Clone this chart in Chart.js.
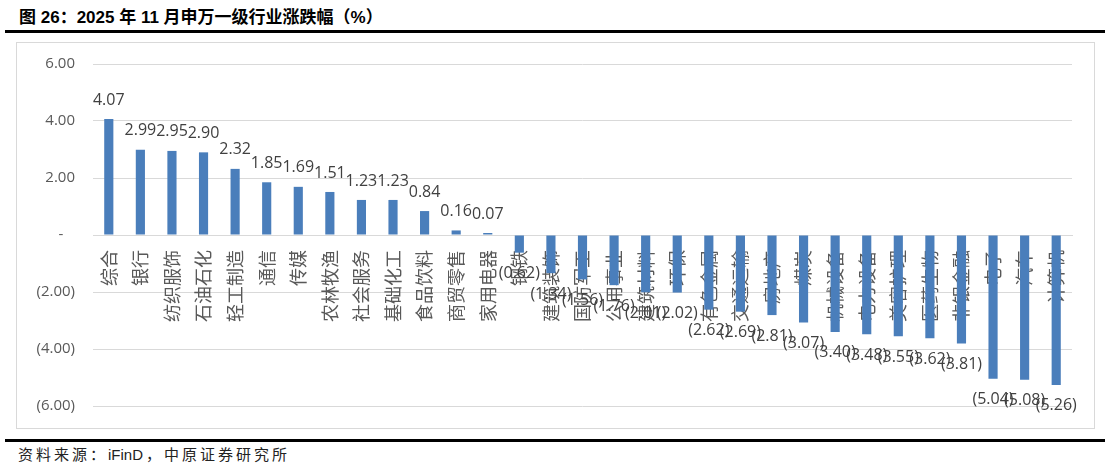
<!DOCTYPE html>
<html>
<head>
<meta charset="utf-8">
<script src="https://cdn.jsdelivr.net/npm/chart.js@4/dist/chart.umd.min.js"></script>
<style>
  html, body { margin: 0; padding: 0; background: #fff; }
  body { width: 1110px; height: 472px; position: relative; overflow: hidden; }
  #title { position: absolute; left: 19px; top: 3px; font: bold 17px "Liberation Sans", "Noto Sans CJK SC", sans-serif; color: #000; white-space: nowrap; }
  .rule { position: absolute; left: 5px; width: 1100px; height: 3px; background: #000; }
  #frame { position: absolute; left: 16px; top: 42px; width: 1079px; height: 387px; border: 1px solid #d9d9d9; box-sizing: border-box; }
  #frame canvas { display: block; }
  #source { position: absolute; left: 18px; top: 443px; font: 15px "Liberation Sans", "Noto Sans CJK SC", sans-serif; color: #222; white-space: nowrap; letter-spacing: 3px; }
  #source .lat { letter-spacing: 0; margin-right: 3px; }
</style>
</head>
<body>
<div id="title">图 26：2025 年 11 月申万一级行业涨跌幅（%）</div>
<div class="rule" style="top:30px"></div>
<div id="frame"><canvas id="c" width="1077" height="385"></canvas></div>
<div class="rule" style="top:439px"></div>
<div id="source">资料来源：<span class="lat">iFinD</span>，中原证券研究所</div>
<script>
const categories = ["综合","银行","纺织服饰","石油石化","轻工制造","通信","传媒","农林牧渔","社会服务","基础化工","食品饮料","商贸零售","家用电器","钢铁","建筑装饰","国防军工","公用事业","建筑材料","环保","有色金属","交通运输","房地产","煤炭","机械设备","电力设备","美容护理","医药生物","非银金融","电子","汽车","计算机"];
const changes = [4.07,2.99,2.95,2.90,2.32,1.85,1.69,1.51,1.23,1.23,0.84,0.16,0.07,-0.62,-1.34,-1.56,-1.76,-2.01,-2.02,-2.62,-2.69,-2.81,-3.07,-3.40,-3.48,-3.55,-3.62,-3.81,-5.04,-5.08,-5.26];
const yTicks = [-6,-4,-2,0,2,4,6];

function fmt(v) {
  if (Math.abs(v) < 1e-9) return '-';
  const s = Math.abs(v).toFixed(2);
  return v < 0 ? '(' + s + ')' : s;
}

const numFont = '"Open Sans", "Liberation Sans", sans-serif';

const dataLabels = {
  id: 'dataLabels',
  afterDatasetsDraw(chart) {
    const ctx = chart.ctx;
    const meta = chart.getDatasetMeta(0);
    ctx.save();
    ctx.font = '16px ' + numFont;
    ctx.fillStyle = '#404040';
    ctx.textAlign = 'center';
    ctx.textBaseline = 'middle';
    meta.data.forEach((bar, i) => {
      const v = changes[i];
      const y = v >= 0 ? bar.y - 19 : bar.y + 21;
      ctx.fillText(fmt(v), bar.x, y);
    });
    ctx.restore();
  }
};

function noPad(scale) {
  scale.paddingTop = 0;
  scale.paddingBottom = 0;
}

new Chart(document.getElementById('c'), {
  type: 'bar',
  data: {
    labels: categories,
    datasets: [{
      data: changes,
      backgroundColor: '#4a7ebb',
      borderWidth: 0,
      categoryPercentage: 1,
      barPercentage: 0.29
    }]
  },
  options: {
    responsive: false,
    animation: false,
    events: [],
    layout: { padding: { left: 0, right: 22, top: 21, bottom: 22 } },
    plugins: { legend: { display: false }, tooltip: { enabled: false }, title: { display: false } },
    scales: {
      x: {
        type: 'category',
        position: { y: 0 },
        afterFit: noPad,
        grid: { display: false, drawTicks: false },
        border: { display: true, color: '#d9d9d9', width: 1 },
        ticks: {
          autoSkip: false,
          minRotation: 90,
          maxRotation: 90,
          padding: 15,
          color: '#595959',
          font: { family: '"Noto Sans CJK SC", sans-serif', size: 18 }
        }
      },
      y: {
        min: -6,
        max: 6,
        afterBuildTicks(scale) { scale.ticks = yTicks.map(v => ({ value: v })); },
        afterFit(scale) { scale.width = 76; noPad(scale); },
        grid: { color: '#d9d9d9', lineWidth: 1, drawTicks: false },
        border: { display: false },
        ticks: {
          padding: 18,
          color: '#595959',
          font: { family: numFont, size: 15 },
          callback: (v) => (v === 0 ? '-   ' : fmt(v))
        }
      }
    }
  },
  plugins: [dataLabels]
});
</script>
</body>
</html>
